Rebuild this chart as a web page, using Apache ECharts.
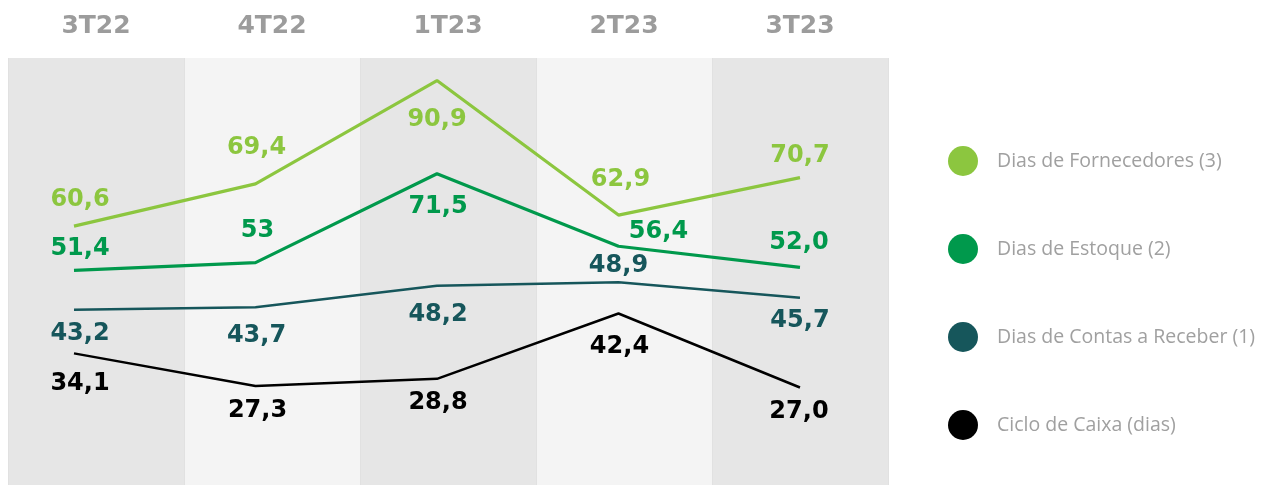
<!DOCTYPE html>
<html>
<head>
<meta charset="utf-8">
<script src="https://cdn.jsdelivr.net/npm/echarts@6/dist/echarts.min.js"></script>
<style>
  html, body { margin: 0; padding: 0; background: #fff; }
  #chart { width: 1266px; height: 485px; }
</style>
</head>
<body>
<div id="chart"></div>
<script>
// Data (values kept as printed, comma decimals)
const quarters = ['3T22', '4T22', '1T23', '2T23', '3T23'];
const seriesNames = ['Dias de Fornecedores (3)', 'Dias de Estoque (2)', 'Dias de Contas a Receber (1)', 'Ciclo de Caixa (dias)'];
const fornecedores = ['60,6', '69,4', '90,9', '62,9', '70,7'];
const estoque = ['51,4', '53', '71,5', '56,4', '52,0'];
const contasReceber = ['43,2', '43,7', '48,2', '48,9', '45,7'];
const cicloCaixa = ['34,1', '27,3', '28,8', '42,4', '27,0'];

// Styling only: line colours, widths and label offsets (px from the point)
const colors = ['#8cc63f', '#00994c', '#16565b', '#000000'];
const widths = [3.2, 3.2, 2.5, 2.5];
const labelOffsets = [
    [[6, -26], [1, -36], [0, 39], [2, -35], [0, -22]],
    [[6, -22], [2, -32], [1, 33], [40, -15], [-1, -25]],
    [[6, 24], [1, 28], [1, 29], [0, -17], [0, 23]],
    [[6, 30], [2, 25], [1, 24], [1, 33], [-1, 24]]
];

const toNum = s => parseFloat(s.replace(',', '.'));
const allSeries = [fornecedores, estoque, contasReceber, cicloCaixa];

const chartDom = document.getElementById('chart');
const chart = echarts.init(chartDom);

const series = allSeries.map((vals, si) => ({
    name: seriesNames[si],
    type: 'line',
    xAxisIndex: 1,
    symbol: 'circle',
    symbolSize: 0.01,
    showSymbol: true,
    color: colors[si],
    lineStyle: { width: widths[si], color: colors[si] },
    z: 10 - si,
    data: vals.map((txt, i) => ({
        value: [i, toNum(txt)],
        label: {
            show: true,
            position: 'inside',
            offset: labelOffsets[si][i],
            formatter: () => txt,
            color: colors[si],
            fontFamily: 'DejaVu Sans',
            fontWeight: 'bold',
            fontSize: 24,
            align: 'center',
            verticalAlign: 'middle'
        }
    }))
}));

const option = {
    animation: false,
    backgroundColor: '#ffffff',
    grid: { left: 8, right: 378, top: 58, bottom: 0 },
    legend: {
        orient: 'vertical',
        left: 943,
        top: 141,
        itemWidth: 30,
        itemHeight: 30,
        itemGap: 58,
        icon: 'circle',
        data: seriesNames,
        textStyle: {
            color: '#a0a0a0',
            fontSize: 19.5,
            fontFamily: 'Open Sans',
            padding: [0, 0, 0, 14]
        }
    },
    xAxis: [
        {
            type: 'category',
            position: 'top',
            data: quarters,
            boundaryGap: true,
            axisLine: { show: false },
            axisTick: { show: false },
            axisLabel: {
                margin: 19,
                color: '#9c9c9c',
                fontSize: 25,
                fontWeight: 'bold',
                fontFamily: 'DejaVu Sans'
            },
            splitLine: { show: true, lineStyle: { color: '#e1e1e1', width: 1 } },
            splitArea: { show: true, areaStyle: { color: ['#e6e6e6', '#f4f4f4'] } }
        },
        {
            type: 'value',
            show: false,
            min: -0.3636,
            max: 4.485,
            splitLine: { show: false }
        }
    ],
    yAxis: {
        type: 'value',
        show: false,
        min: 6.7,
        max: 95.6,
        splitLine: { show: false }
    },
    series: series
};

chart.setOption(option);
window.addEventListener('resize', () => chart.resize());
</script>
</body>
</html>
